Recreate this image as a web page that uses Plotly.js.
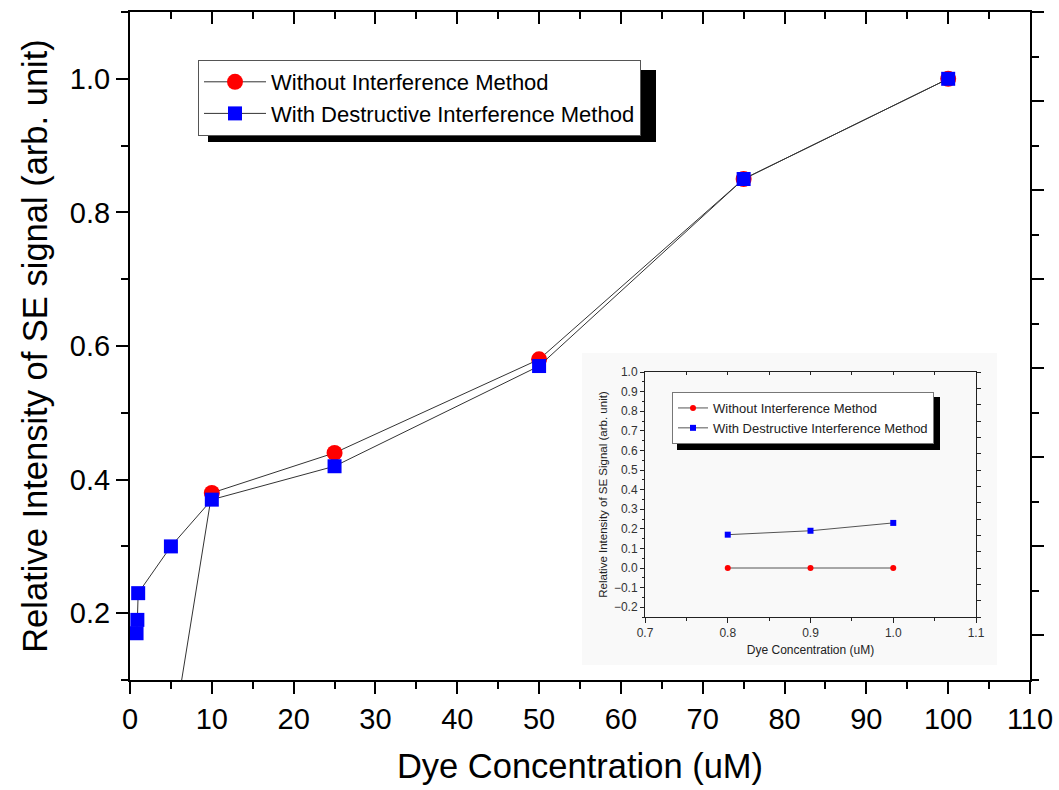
<!DOCTYPE html>
<html>
<head>
<meta charset="utf-8">
<script src="https://cdn.plot.ly/plotly-3.0.1.min.js"></script>
<style>html,body{margin:0;padding:0;background:#fff;}#chart{width:1059px;height:790px;}</style>
</head>
<body>
<div id="chart"></div>
<script>
// Main chart data
const concWithout = [0.8, 0.9, 1, 5, 10, 25, 50, 75, 100];
const valWithout  = [0, 0, 0, 0, 0.38, 0.44, 0.58, 0.85, 1.0];
const concWith    = [0.8, 0.9, 1, 5, 10, 25, 50, 75, 100];
const valWith     = [0.17, 0.19, 0.23, 0.30, 0.37, 0.42, 0.57, 0.85, 1.0];
// Inset data
const insetConc    = [0.8, 0.9, 1.0];
const insetWithout = [0, 0, 0];
const insetWith    = [0.17, 0.19, 0.23];

const nameWithout = 'Without Interference Method';
const nameWith = 'With Destructive Interference Method';

const W = 1059, H = 790, L = 130, R = 1030, T = 12, B = 680;
const px = v => (v - L) / (R - L);
const py = v => (B - v) / (B - T);

const lineCol = '#333333';
const font = 'Arial, "Liberation Sans", sans-serif';

const frameAxis = (xa, ya) => ({x: [], y: [], type: 'scatter', mode: 'markers', xaxis: xa, yaxis: ya,
  showlegend: false, hoverinfo: 'skip'});

const traces = [
  {x: concWithout, y: valWithout, name: nameWithout, type: 'scatter', mode: 'lines+markers',
   line: {color: lineCol, width: 1}, marker: {symbol: 'circle', size: 16, color: '#ff0000'},
   xaxis: 'x', yaxis: 'y', legend: 'legend'},
  {x: concWith, y: valWith, name: nameWith, type: 'scatter', mode: 'lines+markers',
   line: {color: lineCol, width: 1}, marker: {symbol: 'square', size: 14, color: '#0000ff'},
   xaxis: 'x', yaxis: 'y', legend: 'legend'},
  frameAxis('x2', 'y2'),
  {x: insetConc, y: insetWithout, name: nameWithout, type: 'scatter', mode: 'lines+markers',
   line: {color: '#555', width: 1}, marker: {symbol: 'circle', size: 6, color: '#ff0000'},
   xaxis: 'x3', yaxis: 'y3', legend: 'legend2'},
  {x: insetConc, y: insetWith, name: nameWith, type: 'scatter', mode: 'lines+markers',
   line: {color: '#555', width: 1}, marker: {symbol: 'square', size: 6, color: '#0000ff'},
   xaxis: 'x3', yaxis: 'y3', legend: 'legend2'},
  frameAxis('x4', 'y4')
];

// inset pixel box
const iL = 645, iR = 976, iT = 372, iB = 617;

const layout = {
  width: W, height: H,
  margin: {l: L, r: W - R, t: T, b: H - B},
  paper_bgcolor: '#fff', plot_bgcolor: 'rgba(0,0,0,0)',
  font: {family: font, color: '#000'},
  showlegend: true,
  xaxis: {
    domain: [0, 1], range: [0, 110], dtick: 10, tick0: 0,
    ticks: 'outside', ticklen: 12, tickwidth: 2, tickcolor: '#000',
    minor: {dtick: 5, ticks: 'outside', ticklen: 7, tickwidth: 2, tickcolor: '#000'},
    showline: true, linewidth: 2, linecolor: '#000', showgrid: false, zeroline: false,
    tickfont: {size: 29, family: font, color: '#000'},
    title: {text: 'Dye Concentration (uM)', font: {size: 34.5, family: font, color: '#000'}, standoff: 20}
  },
  yaxis: {
    domain: [0, 1], range: [0.1, 1.1], dtick: 0.2, tick0: 0, tickformat: '.1f',
    ticks: 'outside', ticklen: 12, tickwidth: 2, tickcolor: '#000',
    minor: {dtick: 0.1, tick0: 0.1, ticks: 'outside', ticklen: 7, tickwidth: 2, tickcolor: '#000'},
    showline: true, linewidth: 2, linecolor: '#000', showgrid: false, zeroline: false,
    tickfont: {size: 29, family: font, color: '#000'},
    title: {text: 'Relative Intensity of SE signal (arb. unit)', font: {size: 34.5, family: font, color: '#000'}, standoff: 12}
  },
  xaxis2: {
    overlaying: 'x', side: 'top', anchor: 'y2', range: [0, 110], dtick: 10, tick0: 0,
    ticks: 'inside', ticklen: 12, tickwidth: 2, tickcolor: '#000',
    minor: {dtick: 5, ticks: 'inside', ticklen: 7, tickwidth: 2, tickcolor: '#000'},
    showline: true, linewidth: 2, linecolor: '#000', showticklabels: false, showgrid: false, zeroline: false
  },
  yaxis2: {
    overlaying: 'y', side: 'right', anchor: 'x2', range: [0, 15], dtick: 2, tick0: 1,
    ticks: 'outside', ticklen: 12, tickwidth: 2, tickcolor: '#000',
    minor: {dtick: 1, tick0: 0, ticks: 'outside', ticklen: 7, tickwidth: 2, tickcolor: '#000'},
    showline: true, linewidth: 2, linecolor: '#000', showticklabels: false, showgrid: false, zeroline: false
  },
  xaxis3: {
    domain: [px(iL), px(iR)], anchor: 'y3', range: [0.7, 1.1], dtick: 0.1, tick0: 0.7, tickformat: '.1f',
    ticks: 'outside', ticklen: 5, tickwidth: 1, tickcolor: '#222',
    minor: {dtick: 0.05, ticks: 'outside', ticklen: 3, tickwidth: 1, tickcolor: '#222'},
    showline: true, linewidth: 1, linecolor: '#222', showgrid: false, zeroline: false,
    tickfont: {size: 12, family: font, color: '#333'},
    title: {text: 'Dye Concentration (uM)', font: {size: 12, family: font, color: '#222'}, standoff: 6}
  },
  yaxis3: {
    domain: [py(iB), py(iT)], anchor: 'x3', range: [-0.25, 1.0], dtick: 0.1, tick0: 0, tickformat: '.1f',
    ticks: 'outside', ticklen: 4, tickwidth: 1, tickcolor: '#222',
    minor: {dtick: 0.05, ticks: 'outside', ticklen: 2, tickwidth: 1, tickcolor: '#222'},
    showline: true, linewidth: 1, linecolor: '#222', showgrid: false, zeroline: false,
    tickfont: {size: 12, family: font, color: '#333'},
    title: {text: 'Relative Intensity of SE Signal (arb. unit)', font: {size: 11.5, family: font, color: '#222'}, standoff: 3}
  },
  xaxis4: {
    overlaying: 'x3', side: 'top', anchor: 'y4', range: [0.7, 1.1], dtick: 0.05, tick0: 0.7,
    ticks: 'inside', ticklen: 3, tickwidth: 1, tickcolor: '#222',
    showline: true, linewidth: 1, linecolor: '#222', showticklabels: false, showgrid: false, zeroline: false
  },
  yaxis4: {
    overlaying: 'y3', side: 'right', anchor: 'x4', range: [0, 15], dtick: 1, tick0: 0,
    ticks: 'outside', ticklen: 4, tickwidth: 1, tickcolor: '#222',
    showline: true, linewidth: 1, linecolor: '#222', showticklabels: false, showgrid: false, zeroline: false
  },
  legend: {
    x: px(198), y: py(60), xanchor: 'left', yanchor: 'top',
    bgcolor: '#fff', bordercolor: '#555', borderwidth: 1,
    font: {size: 22, family: font, color: '#000'},
    itemwidth: 62, tracegroupgap: 0
  },
  legend2: {
    x: px(672), y: py(392), xanchor: 'left', yanchor: 'top',
    bgcolor: '#fff', bordercolor: '#777', borderwidth: 1,
    font: {size: 13, family: font, color: '#222'},
    itemwidth: 30, tracegroupgap: 0
  },
  shapes: [
    // inset background
    {type: 'rect', xref: 'paper', yref: 'paper', x0: px(582), x1: px(997), y0: py(665), y1: py(353),
     fillcolor: '#f9f9f9', line: {width: 0}, layer: 'below'},
    // main legend shadow
    {type: 'rect', xref: 'paper', yref: 'paper', x0: px(208), x1: px(656), y0: py(142), y1: py(70),
     fillcolor: '#000', line: {width: 0}, layer: 'above'},
    // inset legend shadow
    {type: 'rect', xref: 'paper', yref: 'paper', x0: px(677), x1: px(940), y0: py(450), y1: py(397),
     fillcolor: '#000', line: {width: 0}, layer: 'above'}
  ]
};

Plotly.newPlot('chart', traces, layout, {displayModeBar: false, staticPlot: true});
</script>
</body>
</html>
